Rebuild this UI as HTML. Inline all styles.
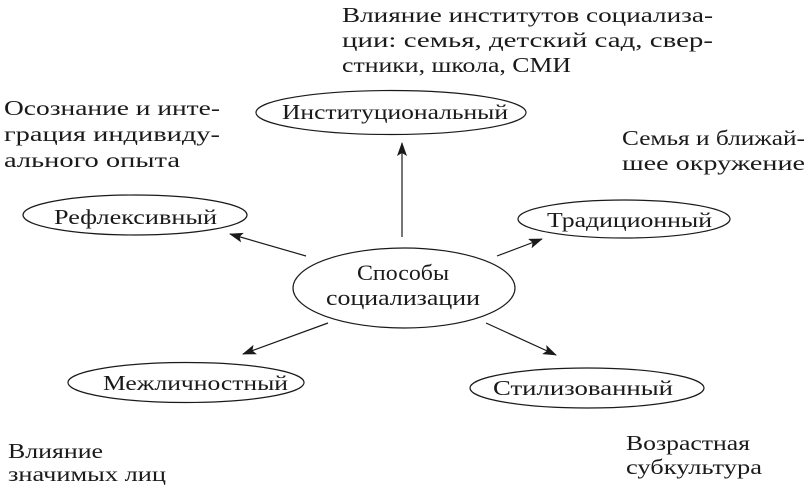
<html><head><style>body{margin:0;background:#fff} svg text{font-family:"Liberation Serif","DejaVu Serif",serif}</style></head><body>
<svg width="811" height="487" xmlns="http://www.w3.org/2000/svg" font-size="21" fill="#1a1a1a">
<defs><marker id="a" markerWidth="14" markerHeight="10" refX="13" refY="5" orient="auto" markerUnits="userSpaceOnUse"><path d="M0,0 L14,5 L0,10 L3,5 Z" fill="#1a1a1a"/></marker></defs>
<g fill="none" stroke="#1a1a1a" stroke-width="1.2">
<ellipse cx="404" cy="288" rx="111" ry="40"/>
<ellipse cx="391" cy="112.5" rx="135" ry="22"/>
<ellipse cx="135" cy="215" rx="112" ry="20"/>
<ellipse cx="624" cy="219" rx="106" ry="19"/>
<ellipse cx="186" cy="382.5" rx="118" ry="20"/>
<ellipse cx="587" cy="388" rx="117" ry="20"/>
<line x1="402" y1="237" x2="402" y2="143" marker-end="url(#a)"/>
<line x1="306" y1="256" x2="230" y2="234" marker-end="url(#a)"/>
<line x1="497" y1="256" x2="542" y2="239" marker-end="url(#a)"/>
<line x1="328" y1="323" x2="243" y2="354" marker-end="url(#a)"/>
<line x1="486" y1="323" x2="556" y2="355" marker-end="url(#a)"/>
</g>
<g font-size="22">
<text x="357" y="280" textLength="92" lengthAdjust="spacingAndGlyphs">Способы</text>
<text x="326" y="305" textLength="154" lengthAdjust="spacingAndGlyphs">социализации</text>
</g>
<text x="282" y="119" textLength="226" lengthAdjust="spacingAndGlyphs">Институциональный</text>
<text x="54" y="224" textLength="163" lengthAdjust="spacingAndGlyphs">Рефлексивный</text>
<text x="547" y="227" textLength="165" lengthAdjust="spacingAndGlyphs">Традиционный</text>
<text x="103" y="390" textLength="185" lengthAdjust="spacingAndGlyphs">Межличностный</text>
<text x="493" y="395" textLength="180" lengthAdjust="spacingAndGlyphs">Стилизованный</text>
<text x="342" y="22" textLength="371" lengthAdjust="spacingAndGlyphs">Влияние институтов социализа-</text>
<text x="342" y="47" textLength="371" lengthAdjust="spacingAndGlyphs">ции: семья, детский сад, свер-</text>
<text x="342" y="72" textLength="229" lengthAdjust="spacingAndGlyphs">стники, школа, СМИ</text>
<text x="4" y="115" textLength="216" lengthAdjust="spacingAndGlyphs">Осознание и инте-</text>
<text x="4" y="141" textLength="216" lengthAdjust="spacingAndGlyphs">грация индивиду-</text>
<text x="4" y="167" textLength="176" lengthAdjust="spacingAndGlyphs">ального опыта</text>
<text x="622" y="145" textLength="183" lengthAdjust="spacingAndGlyphs">Семья и ближай-</text>
<text x="622" y="170" textLength="183" lengthAdjust="spacingAndGlyphs">шее окружение</text>
<text x="8" y="458" textLength="95" lengthAdjust="spacingAndGlyphs">Влияние</text>
<text x="8" y="481" textLength="158" lengthAdjust="spacingAndGlyphs">значимых лиц</text>
<text x="626" y="450" textLength="124" lengthAdjust="spacingAndGlyphs">Возрастная</text>
<text x="626" y="474" textLength="136" lengthAdjust="spacingAndGlyphs">субкультура</text>
</svg>
</body></html>
